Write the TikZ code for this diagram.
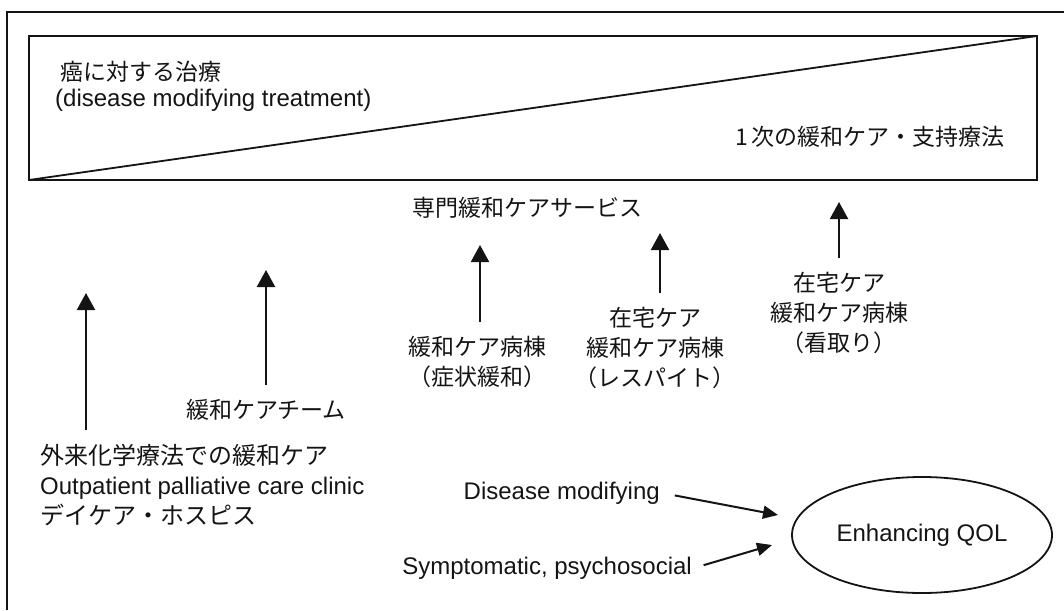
\documentclass[tikz,border=0pt]{standalone}
\usepackage{fontspec}
\setmainfont{Liberation Sans}
\newfontfamily\jp{Noto Sans CJK JP}
\usetikzlibrary{arrows.meta,positioning,shapes.geometric}
\definecolor{InkBlack}{RGB}{20,20,20}

\begin{document}
\begin{tikzpicture}[x=1pt,y=-1pt,
  txt/.style={inner sep=2pt,font=\fontsize{24}{30}\selectfont,text=InkBlack},
  jtxt/.style={inner sep=2pt,font=\jp\fontsize{23}{30}\selectfont,text=InkBlack},
  up/.style={-{Triangle[length=17pt,width=18pt]},line width=2.2pt,InkBlack,shorten <=12pt},
  arr/.style={-{Triangle[length=15pt,width=13pt]},line width=2pt,InkBlack},
]
\useasboundingbox (0,0) rectangle (1064,610);
\draw[InkBlack,line width=1.2pt] (7,610) -- (7,12) -- (1064,12);
\draw[InkBlack,line width=2.6pt] (29,36) rectangle (1037,180);
\draw[InkBlack,line width=1.8pt] (29,180) -- (1037,36);
\node[jtxt,anchor=west] (cure) at (58,72) {癌に対する治療};
\node[txt,anchor=west] (cureen) at (53,100) {(disease modifying treatment)};
\node[jtxt,anchor=east] (primary) at (1007,137) {1\,次の緩和ケア・支持療法};
\node[jtxt] (special) at (527,208) {専門緩和ケアサービス};
\node[txt,align=left,anchor=west] (outpt) at (38,485)
  {{\jp 外来化学療法での緩和ケア}\\Outpatient palliative care clinic\\{\jp デイケア・ホスピス}};
\node[jtxt] (team) at (266,410) {緩和ケアチーム};
\node[jtxt,align=center] (ward) at (477,362) {緩和ケア病棟\\（症状緩和）};
\node[jtxt,align=center] (respite) at (655,348) {在宅ケア\\緩和ケア病棟\\（レスパイト）};
\node[jtxt,align=center] (hospice) at (839,313) {在宅ケア\\緩和ケア病棟\\（看取り）};
\coordinate (tipA) at (86,293);
\coordinate (tipB) at (266,270);
\coordinate (tipC) at (480,245);
\coordinate (tipD) at (660,233);
\coordinate (tipE) at (839,202);
\draw[up] (tipA |- outpt.north) -- (tipA);
\draw[up] (tipB |- team.north) -- (tipB);
\draw[up] (tipC |- ward.north) -- (tipC);
\draw[up] (tipD |- respite.north) -- (tipD);
\draw[up] (tipE |- hospice.north) -- (tipE);
\node[txt,anchor=east] (dm) at (662,493) {Disease modifying};
\node[txt,anchor=east] (symp) at (694,568) {Symptomatic, psychosocial};
\node[txt,ellipse,draw=InkBlack,line width=1.8pt,minimum width=260pt,minimum height=116pt] (qol) at (922,535) {Enhancing QOL};
\coordinate (dmtip) at (778,515);
\coordinate (sptip) at (772,545);
\draw[arr,shorten <=13pt] (dm.east) -- (dmtip);
\draw[arr,shorten <=10pt] (symp.east) -- (sptip);
\end{tikzpicture}
\end{document}
